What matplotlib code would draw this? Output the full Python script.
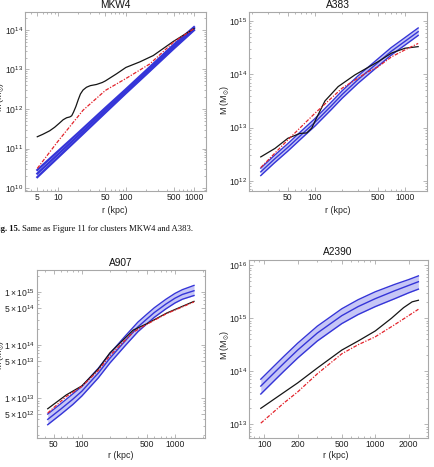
import matplotlib.pyplot as plt
import numpy as np
from matplotlib.ticker import FixedLocator, FixedFormatter, LogLocator, NullFormatter, LogFormatterMathtext

plt.rcParams['font.family'] = 'Liberation Sans'
plt.rcParams['mathtext.fontset'] = 'custom'
plt.rcParams['mathtext.rm'] = 'Liberation Sans'
plt.rcParams['mathtext.it'] = 'Liberation Sans:italic'
plt.rcParams['mathtext.bf'] = 'Liberation Sans:bold'
plt.rcParams['mathtext.fallback'] = 'stixsans'

W, H = 435, 467

# ---- MKW4 (log10 M) ----
mkw4_r_band = [5, 10, 20, 50, 100, 200, 500, 1000]
mkw4_mid = [10.37, 10.85, 11.33, 11.97, 12.45, 12.93, 13.57, 14.03]
mkw4_lo = [10.28, 10.77, 11.26, 11.91, 12.40, 12.88, 13.52, 13.99]
mkw4_hi = [10.46, 10.93, 11.40, 12.03, 12.50, 12.98, 13.62, 14.07]
mkw4_r_obs = [5, 6, 7.6, 9, 10.5, 12, 13.5, 15, 16, 17, 18.4, 20, 21.5, 23.5, 26.4, 30, 37,
              45, 50, 73, 100, 160, 252, 500, 1000]
mkw4_obs = [11.30, 11.36, 11.45, 11.54, 11.64, 11.73, 11.78, 11.80, 11.83, 11.92, 12.06, 12.24,
            12.38, 12.48, 12.55, 12.59, 12.62, 12.67, 12.71, 12.89, 13.05, 13.19, 13.35, 13.71, 14.03]
mkw4_r_fit = [5, 10, 23.5, 50, 100, 225, 500, 1000]
mkw4_fit = [10.50, 11.18, 11.97, 12.47, 12.77, 13.14, 13.69, 14.03]

# ---- A383 ----
a383_r_band = [25, 35, 50, 70, 100, 150, 200, 300, 500, 700, 1000, 1400]
a383_mid = [12.17, 12.40, 12.63, 12.86, 13.10, 13.40, 13.62, 13.90, 14.22, 14.43, 14.62, 14.80]
a383_lo = [12.10, 12.33, 12.56, 12.79, 13.03, 13.33, 13.55, 13.83, 14.15, 14.36, 14.55, 14.73]
a383_hi = [12.24, 12.47, 12.70, 12.93, 13.17, 13.47, 13.69, 13.97, 14.29, 14.50, 14.69, 14.87]
a383_r_obs = [25, 36, 50, 68, 81, 92, 104, 129, 181, 278, 505, 711, 1000, 1400]
a383_obs = [12.45, 12.61, 12.80, 12.89, 12.90, 12.99, 13.18, 13.50, 13.77, 13.99, 14.24, 14.40, 14.49, 14.52]
a383_r_fit = [25, 50, 100, 200, 390, 500, 711, 1000, 1400]
a383_fit = [12.25, 12.77, 13.27, 13.74, 14.05, 14.14, 14.33, 14.46, 14.58]

# ---- A907 ----
a907_r_band = [43, 60, 80, 100, 150, 200, 300, 400, 500, 600, 800, 1000, 1200, 1600]
a907_mid = [12.60, 12.80, 12.98, 13.13, 13.47, 13.75, 14.10, 14.34, 14.49, 14.61, 14.77, 14.88, 14.95, 15.02]
a907_lo = [12.50, 12.70, 12.88, 13.04, 13.38, 13.66, 14.01, 14.25, 14.40, 14.52, 14.68, 14.79, 14.86, 14.93]
a907_hi = [12.70, 12.90, 13.08, 13.22, 13.56, 13.84, 14.19, 14.43, 14.58, 14.70, 14.86, 14.97, 15.04, 15.12]
a907_r_obs = [43, 68, 100, 150, 200, 356, 500, 814, 1600]
a907_obs = [12.80, 13.06, 13.23, 13.55, 13.85, 14.28, 14.40, 14.60, 14.82]
a907_r_fit = [43, 68, 100, 150, 200, 356, 500, 814, 1600]
a907_fit = [12.72, 13.03, 13.22, 13.52, 13.80, 14.24, 14.39, 14.59, 14.81]

# ---- A2390 ----
a2390_r_band = [93, 120, 150, 200, 300, 500, 700, 1000, 1500, 2000, 2450]
a2390_mid = [13.72, 13.95, 14.15, 14.40, 14.72, 15.05, 15.22, 15.37, 15.52, 15.62, 15.69]
a2390_lo = [13.57, 13.80, 14.00, 14.25, 14.57, 14.90, 15.07, 15.22, 15.37, 15.48, 15.55]
a2390_hi = [13.85, 14.08, 14.28, 14.53, 14.85, 15.18, 15.35, 15.50, 15.64, 15.73, 15.80]
a2390_r_obs = [93, 150, 200, 300, 500, 700, 1000, 1400, 1800, 2150, 2450]
a2390_obs = [13.30, 13.60, 13.78, 14.06, 14.40, 14.57, 14.76, 15.00, 15.20, 15.31, 15.34]
a2390_r_fit = [93, 150, 200, 300, 500, 700, 1000, 1500, 2000, 2450]
a2390_fit = [13.02, 13.40, 13.61, 13.95, 14.33, 14.50, 14.65, 14.88, 15.05, 15.17]

fig = plt.figure(figsize=(W / 100, H / 100), dpi=100)


def px_axes(l, t, r, b):
    return fig.add_axes([l / W, 1 - b / H, (r - l) / W, (b - t) / H])


def ftext(x, y, s, **kw):
    return fig.text(x / W, 1 - y / H, s, **kw)


BLUE = '#3535d8'
FILL = '#c6c6f6'
RED = '#e3232b'


def panel(ax, rb, lo, mid, hi, ro, obs, rf, fit, band_lw=1.0):
    ax.fill_between(rb, 10 ** np.array(lo), 10 ** np.array(hi), color=FILL, lw=0)
    for s in (lo, mid, hi):
        ax.plot(rb, 10 ** np.array(s), color=BLUE, lw=band_lw)
    ax.plot(ro, 10 ** np.array(obs), color='#151515', lw=0.9)
    ax.plot(rf, 10 ** np.array(fit), color=RED, lw=0.9, ls=(0, (3, 1.2, 1, 1.2)))
    ax.set_xscale('log')
    ax.set_yscale('log')
    for sp in ax.spines.values():
        sp.set_color('#a8a8a8')
        sp.set_linewidth(0.8)
    ax.tick_params(which='both', direction='in', top=True, right=True,
                   color='#9a9a9a', labelcolor='#222222', labelsize=6.2, pad=1.5, width=0.5)
    ax.tick_params(which='major', length=3)
    ax.tick_params(which='minor', length=1.6)
    ax.xaxis.set_minor_locator(LogLocator(base=10, subs=np.arange(1, 10)))
    ax.xaxis.set_minor_formatter(NullFormatter())
    ax.yaxis.set_minor_locator(LogLocator(base=10, subs=np.arange(1, 10)))
    ax.yaxis.set_minor_formatter(NullFormatter())


def xticks(ax, vals):
    ax.xaxis.set_major_locator(FixedLocator(vals))
    ax.xaxis.set_major_formatter(FixedFormatter([str(v) for v in vals]))


ylab = r'M (M$_{\odot}$)'

# MKW4
ax1 = px_axes(25, 12, 206, 191)
panel(ax1, mkw4_r_band, mkw4_lo, mkw4_mid, mkw4_hi, mkw4_r_obs, mkw4_obs, mkw4_r_fit, mkw4_fit, band_lw=1.6)
ax1.set_xlim(3.3, 1500)
ax1.set_ylim(10 ** 9.93, 10 ** 14.45)
xticks(ax1, [5, 10, 50, 100, 500, 1000])
ax1.yaxis.set_major_locator(FixedLocator([1e10, 1e11, 1e12, 1e13, 1e14]))
ax1.yaxis.set_major_formatter(LogFormatterMathtext())

# A383
ax2 = px_axes(249, 12, 427, 191)
panel(ax2, a383_r_band, a383_lo, a383_mid, a383_hi, a383_r_obs, a383_obs, a383_r_fit, a383_fit)
ax2.set_xlim(18.5, 1755)
ax2.set_ylim(10 ** 11.81, 10 ** 15.17)
xticks(ax2, [50, 100, 500, 1000])
ax2.yaxis.set_major_locator(FixedLocator([1e12, 1e13, 1e14, 1e15]))
ax2.yaxis.set_major_formatter(LogFormatterMathtext())

# A907
ax3 = px_axes(37, 270, 205, 438)
panel(ax3, a907_r_band, a907_lo, a907_mid, a907_hi, a907_r_obs, a907_obs, a907_r_fit, a907_fit)
ax3.set_xlim(33, 2100)
ax3.set_ylim(10 ** 12.25, 10 ** 15.41)
xticks(ax3, [50, 100, 500, 1000])
a907_yt = [5e12, 1e13, 5e13, 1e14, 5e14, 1e15]
a907_ytl = [r'$\mathdefault{5\times10^{12}}$', r'$\mathdefault{1\times10^{13}}$',
            r'$\mathdefault{5\times10^{13}}$', r'$\mathdefault{1\times10^{14}}$',
            r'$\mathdefault{5\times10^{14}}$', r'$\mathdefault{1\times10^{15}}$']
ax3.yaxis.set_major_locator(FixedLocator(a907_yt))
ax3.yaxis.set_major_formatter(FixedFormatter(a907_ytl))

# A2390
ax4 = px_axes(249, 260, 428, 438)
panel(ax4, a2390_r_band, a2390_lo, a2390_mid, a2390_hi, a2390_r_obs, a2390_obs, a2390_r_fit, a2390_fit)
ax4.set_xlim(72.8, 2990)
ax4.set_ylim(10 ** 12.74, 10 ** 16.1)
xticks(ax4, [100, 200, 500, 1000, 2000])
ax4.yaxis.set_major_locator(FixedLocator([1e13, 1e14, 1e15, 1e16]))
ax4.yaxis.set_major_formatter(LogFormatterMathtext())

# titles and axis labels
tkw = dict(ha='center', va='center', fontsize=7.3, color='#111111')
ftext(115, 5, 'MKW4', **tkw)
ftext(338, 5, 'A383', **tkw)
ftext(121, 263, 'A907', **tkw)
ftext(338, 252, 'A2390', **tkw)

lkw = dict(ha='center', va='center', fontsize=6.4, color='#222222')
ftext(115, 210, 'r (kpc)', **lkw)
ftext(338, 210, 'r (kpc)', **lkw)
ftext(121, 456, 'r (kpc)', **lkw)
ftext(336, 456, 'r (kpc)', **lkw)
ftext(0.5, 97, ylab, rotation=90, **lkw)
ftext(225, 100, ylab, rotation=90, **lkw)
ftext(0.5, 355, ylab, rotation=90, **lkw)
ftext(225, 345, ylab, rotation=90, **lkw)

# caption
t1 = ftext(-7, 229.5, 'Fig. 15.', fontweight='bold', family='Liberation Serif',
           fontsize=6.2, va='center', ha='left', color='#111111')
fig.canvas.draw()
bb = t1.get_window_extent()
ftext(bb.x1 + 2.5, 229.5, 'Same as Figure 11 for clusters MKW4 and A383.',
      family='Liberation Serif', fontsize=6.2, va='center', ha='left', color='#111111')

fig.savefig('out.png', dpi=100)
